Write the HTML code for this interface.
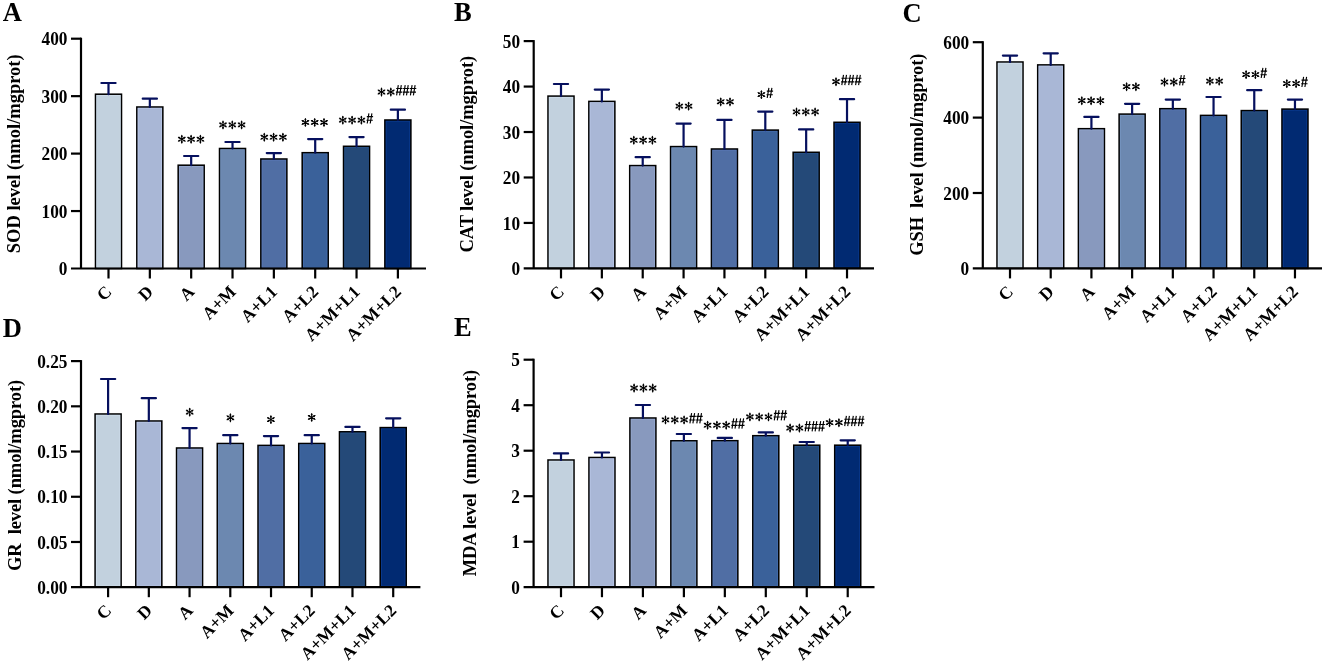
<!DOCTYPE html>
<html><head><meta charset="utf-8"><style>
html,body{margin:0;padding:0;background:#fff;width:1325px;height:663px;overflow:hidden}
svg{position:absolute;left:0;top:0;will-change:transform}
.t{font-family:"Liberation Serif",serif;font-weight:bold;fill:#000}
.ast{font-family:"Liberation Serif",serif;font-weight:normal;fill:#000}
.hs{font-family:"Liberation Sans",sans-serif;font-weight:normal;fill:#000}
</style></head><body>
<svg width="1325" height="663" viewBox="0 0 1325 663">

<text class="t" x="2.7" y="21.3" font-size="26.5">A</text>
<text class="t" font-size="18.5" text-anchor="middle" textLength="198.9" lengthAdjust="spacing" transform="translate(19.5,153.8) rotate(-90)">SOD level (nmol/mgprot)</text>
<rect x="95.50" y="94.20" width="26.00" height="174.30" fill="#c2d1de" stroke="#000" stroke-width="1.55"/>
<rect x="96.70" y="95.40" width="23.60" height="171.90" fill="none" stroke="#dbe9f8" stroke-width="0.8" stroke-opacity="0.55"/>
<path d="M101.40 83.00H115.60M108.50 83.00V94.20" stroke="#06105e" stroke-width="2.2" stroke-linecap="round" fill="none"/>
<rect x="136.84" y="107.00" width="26.00" height="161.50" fill="#a9b7d6" stroke="#000" stroke-width="1.55"/>
<rect x="138.04" y="108.20" width="23.60" height="159.10" fill="none" stroke="#c6d6f8" stroke-width="0.8" stroke-opacity="0.55"/>
<path d="M142.74 98.70H156.94M149.84 98.70V107.00" stroke="#06105e" stroke-width="2.2" stroke-linecap="round" fill="none"/>
<rect x="178.18" y="165.20" width="26.00" height="103.30" fill="#8899be" stroke="#000" stroke-width="1.55"/>
<rect x="179.38" y="166.40" width="23.60" height="100.90" fill="none" stroke="#a2b6e2" stroke-width="0.8" stroke-opacity="0.55"/>
<path d="M184.08 156.00H198.28M191.18 156.00V165.20" stroke="#06105e" stroke-width="2.2" stroke-linecap="round" fill="none"/>
<rect x="219.52" y="148.50" width="26.00" height="120.00" fill="#6c88b0" stroke="#000" stroke-width="1.55"/>
<rect x="220.72" y="149.70" width="23.60" height="117.60" fill="none" stroke="#82a2d2" stroke-width="0.8" stroke-opacity="0.55"/>
<path d="M225.42 142.00H239.62M232.52 142.00V148.50" stroke="#06105e" stroke-width="2.2" stroke-linecap="round" fill="none"/>
<rect x="260.86" y="159.00" width="26.00" height="109.50" fill="#506ea4" stroke="#000" stroke-width="1.55"/>
<rect x="262.06" y="160.20" width="23.60" height="107.10" fill="none" stroke="#6282c2" stroke-width="0.8" stroke-opacity="0.55"/>
<path d="M266.76 153.10H280.96M273.86 153.10V159.00" stroke="#06105e" stroke-width="2.2" stroke-linecap="round" fill="none"/>
<rect x="302.20" y="152.70" width="26.00" height="115.80" fill="#3a619a" stroke="#000" stroke-width="1.55"/>
<rect x="303.40" y="153.90" width="23.60" height="113.40" fill="none" stroke="#4c74ba" stroke-width="0.8" stroke-opacity="0.55"/>
<path d="M308.10 139.10H322.30M315.20 139.10V152.70" stroke="#06105e" stroke-width="2.2" stroke-linecap="round" fill="none"/>
<rect x="343.54" y="146.30" width="26.00" height="122.20" fill="#244978" stroke="#000" stroke-width="1.55"/>
<rect x="344.74" y="147.50" width="23.60" height="119.80" fill="none" stroke="#3262a2" stroke-width="0.8" stroke-opacity="0.55"/>
<path d="M349.44 137.10H363.64M356.54 137.10V146.30" stroke="#06105e" stroke-width="2.2" stroke-linecap="round" fill="none"/>
<rect x="384.88" y="120.00" width="26.00" height="148.50" fill="#012a72" stroke="#000" stroke-width="1.55"/>
<rect x="386.08" y="121.20" width="23.60" height="146.10" fill="none" stroke="#1448a8" stroke-width="0.8" stroke-opacity="0.55"/>
<path d="M390.78 109.70H404.98M397.88 109.70V120.00" stroke="#06105e" stroke-width="2.2" stroke-linecap="round" fill="none"/>
<path d="M81.0 37.7V268.5" stroke="#000" stroke-width="2.2" fill="none"/>
<path d="M71.0 268.5H426.0" stroke="#000" stroke-width="2.2" fill="none"/>
<text class="t" font-size="18.0" text-anchor="end" transform="translate(67.4,275.20) scale(0.96,1)">0</text>
<path d="M71.0 211.05H81.0" stroke="#000" stroke-width="2.2" fill="none"/>
<text class="t" font-size="18.0" text-anchor="end" transform="translate(67.4,217.75) scale(0.96,1)">100</text>
<path d="M71.0 153.60H81.0" stroke="#000" stroke-width="2.2" fill="none"/>
<text class="t" font-size="18.0" text-anchor="end" transform="translate(67.4,160.30) scale(0.96,1)">200</text>
<path d="M71.0 96.15H81.0" stroke="#000" stroke-width="2.2" fill="none"/>
<text class="t" font-size="18.0" text-anchor="end" transform="translate(67.4,102.85) scale(0.96,1)">300</text>
<path d="M71.0 38.70H81.0" stroke="#000" stroke-width="2.2" fill="none"/>
<text class="t" font-size="18.0" text-anchor="end" transform="translate(67.4,45.40) scale(0.96,1)">400</text>
<path d="M108.50 268.5V278.5" stroke="#000" stroke-width="2.2" fill="none"/>
<text class="t" font-size="17.5" text-anchor="end" transform="translate(112.80,292.8) rotate(-45)">C</text>
<path d="M149.84 268.5V278.5" stroke="#000" stroke-width="2.2" fill="none"/>
<text class="t" font-size="17.5" text-anchor="end" transform="translate(154.14,292.8) rotate(-45)">D</text>
<path d="M191.18 268.5V278.5" stroke="#000" stroke-width="2.2" fill="none"/>
<text class="t" font-size="17.5" text-anchor="end" transform="translate(195.48,292.8) rotate(-45)">A</text>
<path d="M232.52 268.5V278.5" stroke="#000" stroke-width="2.2" fill="none"/>
<text class="t" font-size="17.5" text-anchor="end" transform="translate(236.82,292.8) rotate(-45)">A+M</text>
<path d="M273.86 268.5V278.5" stroke="#000" stroke-width="2.2" fill="none"/>
<text class="t" font-size="17.5" text-anchor="end" transform="translate(278.16,292.8) rotate(-45)">A+L1</text>
<path d="M315.20 268.5V278.5" stroke="#000" stroke-width="2.2" fill="none"/>
<text class="t" font-size="17.5" text-anchor="end" transform="translate(319.50,292.8) rotate(-45)">A+L2</text>
<path d="M356.54 268.5V278.5" stroke="#000" stroke-width="2.2" fill="none"/>
<text class="t" font-size="17.5" text-anchor="end" transform="translate(360.84,292.8) rotate(-45)">A+M+L1</text>
<path d="M397.88 268.5V278.5" stroke="#000" stroke-width="2.2" fill="none"/>
<text class="t" font-size="17.5" text-anchor="end" transform="translate(402.18,292.8) rotate(-45)">A+M+L2</text>
<g transform="translate(181.80,139.20)"><path d="M0 0L0.00 -3.90M0 0L3.38 -1.95M0 0L3.38 1.95M0 0L0.00 3.90M0 0L-3.38 1.95M0 0L-3.38 -1.95" stroke="#000" stroke-width="1.05" stroke-linecap="round"/><circle cx="0.00" cy="-2.81" r="0.95"/><circle cx="2.43" cy="-1.40" r="0.95"/><circle cx="2.43" cy="1.40" r="0.95"/><circle cx="0.00" cy="2.81" r="0.95"/><circle cx="-2.43" cy="1.40" r="0.95"/><circle cx="-2.43" cy="-1.40" r="0.95"/></g>
<g transform="translate(191.10,139.20)"><path d="M0 0L0.00 -3.90M0 0L3.38 -1.95M0 0L3.38 1.95M0 0L0.00 3.90M0 0L-3.38 1.95M0 0L-3.38 -1.95" stroke="#000" stroke-width="1.05" stroke-linecap="round"/><circle cx="0.00" cy="-2.81" r="0.95"/><circle cx="2.43" cy="-1.40" r="0.95"/><circle cx="2.43" cy="1.40" r="0.95"/><circle cx="0.00" cy="2.81" r="0.95"/><circle cx="-2.43" cy="1.40" r="0.95"/><circle cx="-2.43" cy="-1.40" r="0.95"/></g>
<g transform="translate(200.40,139.20)"><path d="M0 0L0.00 -3.90M0 0L3.38 -1.95M0 0L3.38 1.95M0 0L0.00 3.90M0 0L-3.38 1.95M0 0L-3.38 -1.95" stroke="#000" stroke-width="1.05" stroke-linecap="round"/><circle cx="0.00" cy="-2.81" r="0.95"/><circle cx="2.43" cy="-1.40" r="0.95"/><circle cx="2.43" cy="1.40" r="0.95"/><circle cx="0.00" cy="2.81" r="0.95"/><circle cx="-2.43" cy="1.40" r="0.95"/><circle cx="-2.43" cy="-1.40" r="0.95"/></g>
<g transform="translate(223.00,124.90)"><path d="M0 0L0.00 -3.90M0 0L3.38 -1.95M0 0L3.38 1.95M0 0L0.00 3.90M0 0L-3.38 1.95M0 0L-3.38 -1.95" stroke="#000" stroke-width="1.05" stroke-linecap="round"/><circle cx="0.00" cy="-2.81" r="0.95"/><circle cx="2.43" cy="-1.40" r="0.95"/><circle cx="2.43" cy="1.40" r="0.95"/><circle cx="0.00" cy="2.81" r="0.95"/><circle cx="-2.43" cy="1.40" r="0.95"/><circle cx="-2.43" cy="-1.40" r="0.95"/></g>
<g transform="translate(232.30,124.90)"><path d="M0 0L0.00 -3.90M0 0L3.38 -1.95M0 0L3.38 1.95M0 0L0.00 3.90M0 0L-3.38 1.95M0 0L-3.38 -1.95" stroke="#000" stroke-width="1.05" stroke-linecap="round"/><circle cx="0.00" cy="-2.81" r="0.95"/><circle cx="2.43" cy="-1.40" r="0.95"/><circle cx="2.43" cy="1.40" r="0.95"/><circle cx="0.00" cy="2.81" r="0.95"/><circle cx="-2.43" cy="1.40" r="0.95"/><circle cx="-2.43" cy="-1.40" r="0.95"/></g>
<g transform="translate(241.60,124.90)"><path d="M0 0L0.00 -3.90M0 0L3.38 -1.95M0 0L3.38 1.95M0 0L0.00 3.90M0 0L-3.38 1.95M0 0L-3.38 -1.95" stroke="#000" stroke-width="1.05" stroke-linecap="round"/><circle cx="0.00" cy="-2.81" r="0.95"/><circle cx="2.43" cy="-1.40" r="0.95"/><circle cx="2.43" cy="1.40" r="0.95"/><circle cx="0.00" cy="2.81" r="0.95"/><circle cx="-2.43" cy="1.40" r="0.95"/><circle cx="-2.43" cy="-1.40" r="0.95"/></g>
<g transform="translate(264.30,137.20)"><path d="M0 0L0.00 -3.90M0 0L3.38 -1.95M0 0L3.38 1.95M0 0L0.00 3.90M0 0L-3.38 1.95M0 0L-3.38 -1.95" stroke="#000" stroke-width="1.05" stroke-linecap="round"/><circle cx="0.00" cy="-2.81" r="0.95"/><circle cx="2.43" cy="-1.40" r="0.95"/><circle cx="2.43" cy="1.40" r="0.95"/><circle cx="0.00" cy="2.81" r="0.95"/><circle cx="-2.43" cy="1.40" r="0.95"/><circle cx="-2.43" cy="-1.40" r="0.95"/></g>
<g transform="translate(273.60,137.20)"><path d="M0 0L0.00 -3.90M0 0L3.38 -1.95M0 0L3.38 1.95M0 0L0.00 3.90M0 0L-3.38 1.95M0 0L-3.38 -1.95" stroke="#000" stroke-width="1.05" stroke-linecap="round"/><circle cx="0.00" cy="-2.81" r="0.95"/><circle cx="2.43" cy="-1.40" r="0.95"/><circle cx="2.43" cy="1.40" r="0.95"/><circle cx="0.00" cy="2.81" r="0.95"/><circle cx="-2.43" cy="1.40" r="0.95"/><circle cx="-2.43" cy="-1.40" r="0.95"/></g>
<g transform="translate(282.90,137.20)"><path d="M0 0L0.00 -3.90M0 0L3.38 -1.95M0 0L3.38 1.95M0 0L0.00 3.90M0 0L-3.38 1.95M0 0L-3.38 -1.95" stroke="#000" stroke-width="1.05" stroke-linecap="round"/><circle cx="0.00" cy="-2.81" r="0.95"/><circle cx="2.43" cy="-1.40" r="0.95"/><circle cx="2.43" cy="1.40" r="0.95"/><circle cx="0.00" cy="2.81" r="0.95"/><circle cx="-2.43" cy="1.40" r="0.95"/><circle cx="-2.43" cy="-1.40" r="0.95"/></g>
<g transform="translate(305.40,122.40)"><path d="M0 0L0.00 -3.90M0 0L3.38 -1.95M0 0L3.38 1.95M0 0L0.00 3.90M0 0L-3.38 1.95M0 0L-3.38 -1.95" stroke="#000" stroke-width="1.05" stroke-linecap="round"/><circle cx="0.00" cy="-2.81" r="0.95"/><circle cx="2.43" cy="-1.40" r="0.95"/><circle cx="2.43" cy="1.40" r="0.95"/><circle cx="0.00" cy="2.81" r="0.95"/><circle cx="-2.43" cy="1.40" r="0.95"/><circle cx="-2.43" cy="-1.40" r="0.95"/></g>
<g transform="translate(314.70,122.40)"><path d="M0 0L0.00 -3.90M0 0L3.38 -1.95M0 0L3.38 1.95M0 0L0.00 3.90M0 0L-3.38 1.95M0 0L-3.38 -1.95" stroke="#000" stroke-width="1.05" stroke-linecap="round"/><circle cx="0.00" cy="-2.81" r="0.95"/><circle cx="2.43" cy="-1.40" r="0.95"/><circle cx="2.43" cy="1.40" r="0.95"/><circle cx="0.00" cy="2.81" r="0.95"/><circle cx="-2.43" cy="1.40" r="0.95"/><circle cx="-2.43" cy="-1.40" r="0.95"/></g>
<g transform="translate(324.00,122.40)"><path d="M0 0L0.00 -3.90M0 0L3.38 -1.95M0 0L3.38 1.95M0 0L0.00 3.90M0 0L-3.38 1.95M0 0L-3.38 -1.95" stroke="#000" stroke-width="1.05" stroke-linecap="round"/><circle cx="0.00" cy="-2.81" r="0.95"/><circle cx="2.43" cy="-1.40" r="0.95"/><circle cx="2.43" cy="1.40" r="0.95"/><circle cx="0.00" cy="2.81" r="0.95"/><circle cx="-2.43" cy="1.40" r="0.95"/><circle cx="-2.43" cy="-1.40" r="0.95"/></g>
<g transform="translate(342.80,120.10)"><path d="M0 0L0.00 -3.90M0 0L3.38 -1.95M0 0L3.38 1.95M0 0L0.00 3.90M0 0L-3.38 1.95M0 0L-3.38 -1.95" stroke="#000" stroke-width="1.05" stroke-linecap="round"/><circle cx="0.00" cy="-2.81" r="0.95"/><circle cx="2.43" cy="-1.40" r="0.95"/><circle cx="2.43" cy="1.40" r="0.95"/><circle cx="0.00" cy="2.81" r="0.95"/><circle cx="-2.43" cy="1.40" r="0.95"/><circle cx="-2.43" cy="-1.40" r="0.95"/></g>
<g transform="translate(352.10,120.10)"><path d="M0 0L0.00 -3.90M0 0L3.38 -1.95M0 0L3.38 1.95M0 0L0.00 3.90M0 0L-3.38 1.95M0 0L-3.38 -1.95" stroke="#000" stroke-width="1.05" stroke-linecap="round"/><circle cx="0.00" cy="-2.81" r="0.95"/><circle cx="2.43" cy="-1.40" r="0.95"/><circle cx="2.43" cy="1.40" r="0.95"/><circle cx="0.00" cy="2.81" r="0.95"/><circle cx="-2.43" cy="1.40" r="0.95"/><circle cx="-2.43" cy="-1.40" r="0.95"/></g>
<g transform="translate(361.40,120.10)"><path d="M0 0L0.00 -3.90M0 0L3.38 -1.95M0 0L3.38 1.95M0 0L0.00 3.90M0 0L-3.38 1.95M0 0L-3.38 -1.95" stroke="#000" stroke-width="1.05" stroke-linecap="round"/><circle cx="0.00" cy="-2.81" r="0.95"/><circle cx="2.43" cy="-1.40" r="0.95"/><circle cx="2.43" cy="1.40" r="0.95"/><circle cx="0.00" cy="2.81" r="0.95"/><circle cx="-2.43" cy="1.40" r="0.95"/><circle cx="-2.43" cy="-1.40" r="0.95"/></g>
<path transform="translate(366.20,123.50)" d="M1.0 0L2.7 -10.2M4.0 0L5.7 -10.2M0.3 -3.3H6.6M0.6 -6.9H6.9" fill="none" stroke="#000" stroke-width="1.15"/>
<g transform="translate(381.50,92.00)"><path d="M0 0L0.00 -3.90M0 0L3.38 -1.95M0 0L3.38 1.95M0 0L0.00 3.90M0 0L-3.38 1.95M0 0L-3.38 -1.95" stroke="#000" stroke-width="1.05" stroke-linecap="round"/><circle cx="0.00" cy="-2.81" r="0.95"/><circle cx="2.43" cy="-1.40" r="0.95"/><circle cx="2.43" cy="1.40" r="0.95"/><circle cx="0.00" cy="2.81" r="0.95"/><circle cx="-2.43" cy="1.40" r="0.95"/><circle cx="-2.43" cy="-1.40" r="0.95"/></g>
<g transform="translate(390.80,92.00)"><path d="M0 0L0.00 -3.90M0 0L3.38 -1.95M0 0L3.38 1.95M0 0L0.00 3.90M0 0L-3.38 1.95M0 0L-3.38 -1.95" stroke="#000" stroke-width="1.05" stroke-linecap="round"/><circle cx="0.00" cy="-2.81" r="0.95"/><circle cx="2.43" cy="-1.40" r="0.95"/><circle cx="2.43" cy="1.40" r="0.95"/><circle cx="0.00" cy="2.81" r="0.95"/><circle cx="-2.43" cy="1.40" r="0.95"/><circle cx="-2.43" cy="-1.40" r="0.95"/></g>
<path transform="translate(395.60,95.40)" d="M1.0 0L2.7 -10.2M4.0 0L5.7 -10.2M0.3 -3.3H6.6M0.6 -6.9H6.9" fill="none" stroke="#000" stroke-width="1.15"/>
<path transform="translate(402.50,95.40)" d="M1.0 0L2.7 -10.2M4.0 0L5.7 -10.2M0.3 -3.3H6.6M0.6 -6.9H6.9" fill="none" stroke="#000" stroke-width="1.15"/>
<path transform="translate(409.40,95.40)" d="M1.0 0L2.7 -10.2M4.0 0L5.7 -10.2M0.3 -3.3H6.6M0.6 -6.9H6.9" fill="none" stroke="#000" stroke-width="1.15"/>
<text class="t" x="454.0" y="21.3" font-size="26.5">B</text>
<text class="t" font-size="18.5" text-anchor="middle" textLength="196.8" lengthAdjust="spacing" transform="translate(472.6,154.2) rotate(-90)">CAT level (nmol/mgprot)</text>
<rect x="548.00" y="96.10" width="26.00" height="172.30" fill="#c2d1de" stroke="#000" stroke-width="1.55"/>
<rect x="549.20" y="97.30" width="23.60" height="169.90" fill="none" stroke="#dbe9f8" stroke-width="0.8" stroke-opacity="0.55"/>
<path d="M553.90 84.00H568.10M561.00 84.00V96.10" stroke="#06105e" stroke-width="2.2" stroke-linecap="round" fill="none"/>
<rect x="588.86" y="101.40" width="26.00" height="167.00" fill="#a9b7d6" stroke="#000" stroke-width="1.55"/>
<rect x="590.06" y="102.60" width="23.60" height="164.60" fill="none" stroke="#c6d6f8" stroke-width="0.8" stroke-opacity="0.55"/>
<path d="M594.76 89.60H608.96M601.86 89.60V101.40" stroke="#06105e" stroke-width="2.2" stroke-linecap="round" fill="none"/>
<rect x="629.72" y="165.60" width="26.00" height="102.80" fill="#8899be" stroke="#000" stroke-width="1.55"/>
<rect x="630.92" y="166.80" width="23.60" height="100.40" fill="none" stroke="#a2b6e2" stroke-width="0.8" stroke-opacity="0.55"/>
<path d="M635.62 157.20H649.82M642.72 157.20V165.60" stroke="#06105e" stroke-width="2.2" stroke-linecap="round" fill="none"/>
<rect x="670.58" y="146.60" width="26.00" height="121.80" fill="#6c88b0" stroke="#000" stroke-width="1.55"/>
<rect x="671.78" y="147.80" width="23.60" height="119.40" fill="none" stroke="#82a2d2" stroke-width="0.8" stroke-opacity="0.55"/>
<path d="M676.48 123.60H690.68M683.58 123.60V146.60" stroke="#06105e" stroke-width="2.2" stroke-linecap="round" fill="none"/>
<rect x="711.44" y="149.00" width="26.00" height="119.40" fill="#506ea4" stroke="#000" stroke-width="1.55"/>
<rect x="712.64" y="150.20" width="23.60" height="117.00" fill="none" stroke="#6282c2" stroke-width="0.8" stroke-opacity="0.55"/>
<path d="M717.34 119.90H731.54M724.44 119.90V149.00" stroke="#06105e" stroke-width="2.2" stroke-linecap="round" fill="none"/>
<rect x="752.30" y="130.10" width="26.00" height="138.30" fill="#3a619a" stroke="#000" stroke-width="1.55"/>
<rect x="753.50" y="131.30" width="23.60" height="135.90" fill="none" stroke="#4c74ba" stroke-width="0.8" stroke-opacity="0.55"/>
<path d="M758.20 111.60H772.40M765.30 111.60V130.10" stroke="#06105e" stroke-width="2.2" stroke-linecap="round" fill="none"/>
<rect x="793.16" y="152.30" width="26.00" height="116.10" fill="#244978" stroke="#000" stroke-width="1.55"/>
<rect x="794.36" y="153.50" width="23.60" height="113.70" fill="none" stroke="#3262a2" stroke-width="0.8" stroke-opacity="0.55"/>
<path d="M799.06 129.40H813.26M806.16 129.40V152.30" stroke="#06105e" stroke-width="2.2" stroke-linecap="round" fill="none"/>
<rect x="834.02" y="122.30" width="26.00" height="146.10" fill="#012a72" stroke="#000" stroke-width="1.55"/>
<rect x="835.22" y="123.50" width="23.60" height="143.70" fill="none" stroke="#1448a8" stroke-width="0.8" stroke-opacity="0.55"/>
<path d="M839.92 99.20H854.12M847.02 99.20V122.30" stroke="#06105e" stroke-width="2.2" stroke-linecap="round" fill="none"/>
<path d="M533.7 40.1V268.4" stroke="#000" stroke-width="2.2" fill="none"/>
<path d="M523.7 268.4H874.0" stroke="#000" stroke-width="2.2" fill="none"/>
<text class="t" font-size="18.0" text-anchor="end" transform="translate(520.1,275.10) scale(0.96,1)">0</text>
<path d="M523.7 222.94H533.7" stroke="#000" stroke-width="2.2" fill="none"/>
<text class="t" font-size="18.0" text-anchor="end" transform="translate(520.1,229.64) scale(0.96,1)">10</text>
<path d="M523.7 177.48H533.7" stroke="#000" stroke-width="2.2" fill="none"/>
<text class="t" font-size="18.0" text-anchor="end" transform="translate(520.1,184.18) scale(0.96,1)">20</text>
<path d="M523.7 132.02H533.7" stroke="#000" stroke-width="2.2" fill="none"/>
<text class="t" font-size="18.0" text-anchor="end" transform="translate(520.1,138.72) scale(0.96,1)">30</text>
<path d="M523.7 86.56H533.7" stroke="#000" stroke-width="2.2" fill="none"/>
<text class="t" font-size="18.0" text-anchor="end" transform="translate(520.1,93.26) scale(0.96,1)">40</text>
<path d="M523.7 41.10H533.7" stroke="#000" stroke-width="2.2" fill="none"/>
<text class="t" font-size="18.0" text-anchor="end" transform="translate(520.1,47.80) scale(0.96,1)">50</text>
<path d="M561.00 268.4V278.4" stroke="#000" stroke-width="2.2" fill="none"/>
<text class="t" font-size="17.5" text-anchor="end" transform="translate(565.30,292.7) rotate(-45)">C</text>
<path d="M601.86 268.4V278.4" stroke="#000" stroke-width="2.2" fill="none"/>
<text class="t" font-size="17.5" text-anchor="end" transform="translate(606.16,292.7) rotate(-45)">D</text>
<path d="M642.72 268.4V278.4" stroke="#000" stroke-width="2.2" fill="none"/>
<text class="t" font-size="17.5" text-anchor="end" transform="translate(647.02,292.7) rotate(-45)">A</text>
<path d="M683.58 268.4V278.4" stroke="#000" stroke-width="2.2" fill="none"/>
<text class="t" font-size="17.5" text-anchor="end" transform="translate(687.88,292.7) rotate(-45)">A+M</text>
<path d="M724.44 268.4V278.4" stroke="#000" stroke-width="2.2" fill="none"/>
<text class="t" font-size="17.5" text-anchor="end" transform="translate(728.74,292.7) rotate(-45)">A+L1</text>
<path d="M765.30 268.4V278.4" stroke="#000" stroke-width="2.2" fill="none"/>
<text class="t" font-size="17.5" text-anchor="end" transform="translate(769.60,292.7) rotate(-45)">A+L2</text>
<path d="M806.16 268.4V278.4" stroke="#000" stroke-width="2.2" fill="none"/>
<text class="t" font-size="17.5" text-anchor="end" transform="translate(810.46,292.7) rotate(-45)">A+M+L1</text>
<path d="M847.02 268.4V278.4" stroke="#000" stroke-width="2.2" fill="none"/>
<text class="t" font-size="17.5" text-anchor="end" transform="translate(851.32,292.7) rotate(-45)">A+M+L2</text>
<g transform="translate(633.80,140.20)"><path d="M0 0L0.00 -3.90M0 0L3.38 -1.95M0 0L3.38 1.95M0 0L0.00 3.90M0 0L-3.38 1.95M0 0L-3.38 -1.95" stroke="#000" stroke-width="1.05" stroke-linecap="round"/><circle cx="0.00" cy="-2.81" r="0.95"/><circle cx="2.43" cy="-1.40" r="0.95"/><circle cx="2.43" cy="1.40" r="0.95"/><circle cx="0.00" cy="2.81" r="0.95"/><circle cx="-2.43" cy="1.40" r="0.95"/><circle cx="-2.43" cy="-1.40" r="0.95"/></g>
<g transform="translate(643.10,140.20)"><path d="M0 0L0.00 -3.90M0 0L3.38 -1.95M0 0L3.38 1.95M0 0L0.00 3.90M0 0L-3.38 1.95M0 0L-3.38 -1.95" stroke="#000" stroke-width="1.05" stroke-linecap="round"/><circle cx="0.00" cy="-2.81" r="0.95"/><circle cx="2.43" cy="-1.40" r="0.95"/><circle cx="2.43" cy="1.40" r="0.95"/><circle cx="0.00" cy="2.81" r="0.95"/><circle cx="-2.43" cy="1.40" r="0.95"/><circle cx="-2.43" cy="-1.40" r="0.95"/></g>
<g transform="translate(652.40,140.20)"><path d="M0 0L0.00 -3.90M0 0L3.38 -1.95M0 0L3.38 1.95M0 0L0.00 3.90M0 0L-3.38 1.95M0 0L-3.38 -1.95" stroke="#000" stroke-width="1.05" stroke-linecap="round"/><circle cx="0.00" cy="-2.81" r="0.95"/><circle cx="2.43" cy="-1.40" r="0.95"/><circle cx="2.43" cy="1.40" r="0.95"/><circle cx="0.00" cy="2.81" r="0.95"/><circle cx="-2.43" cy="1.40" r="0.95"/><circle cx="-2.43" cy="-1.40" r="0.95"/></g>
<g transform="translate(679.30,106.10)"><path d="M0 0L0.00 -3.90M0 0L3.38 -1.95M0 0L3.38 1.95M0 0L0.00 3.90M0 0L-3.38 1.95M0 0L-3.38 -1.95" stroke="#000" stroke-width="1.05" stroke-linecap="round"/><circle cx="0.00" cy="-2.81" r="0.95"/><circle cx="2.43" cy="-1.40" r="0.95"/><circle cx="2.43" cy="1.40" r="0.95"/><circle cx="0.00" cy="2.81" r="0.95"/><circle cx="-2.43" cy="1.40" r="0.95"/><circle cx="-2.43" cy="-1.40" r="0.95"/></g>
<g transform="translate(688.60,106.10)"><path d="M0 0L0.00 -3.90M0 0L3.38 -1.95M0 0L3.38 1.95M0 0L0.00 3.90M0 0L-3.38 1.95M0 0L-3.38 -1.95" stroke="#000" stroke-width="1.05" stroke-linecap="round"/><circle cx="0.00" cy="-2.81" r="0.95"/><circle cx="2.43" cy="-1.40" r="0.95"/><circle cx="2.43" cy="1.40" r="0.95"/><circle cx="0.00" cy="2.81" r="0.95"/><circle cx="-2.43" cy="1.40" r="0.95"/><circle cx="-2.43" cy="-1.40" r="0.95"/></g>
<g transform="translate(720.70,101.80)"><path d="M0 0L0.00 -3.90M0 0L3.38 -1.95M0 0L3.38 1.95M0 0L0.00 3.90M0 0L-3.38 1.95M0 0L-3.38 -1.95" stroke="#000" stroke-width="1.05" stroke-linecap="round"/><circle cx="0.00" cy="-2.81" r="0.95"/><circle cx="2.43" cy="-1.40" r="0.95"/><circle cx="2.43" cy="1.40" r="0.95"/><circle cx="0.00" cy="2.81" r="0.95"/><circle cx="-2.43" cy="1.40" r="0.95"/><circle cx="-2.43" cy="-1.40" r="0.95"/></g>
<g transform="translate(730.00,101.80)"><path d="M0 0L0.00 -3.90M0 0L3.38 -1.95M0 0L3.38 1.95M0 0L0.00 3.90M0 0L-3.38 1.95M0 0L-3.38 -1.95" stroke="#000" stroke-width="1.05" stroke-linecap="round"/><circle cx="0.00" cy="-2.81" r="0.95"/><circle cx="2.43" cy="-1.40" r="0.95"/><circle cx="2.43" cy="1.40" r="0.95"/><circle cx="0.00" cy="2.81" r="0.95"/><circle cx="-2.43" cy="1.40" r="0.95"/><circle cx="-2.43" cy="-1.40" r="0.95"/></g>
<g transform="translate(761.40,94.60)"><path d="M0 0L0.00 -3.90M0 0L3.38 -1.95M0 0L3.38 1.95M0 0L0.00 3.90M0 0L-3.38 1.95M0 0L-3.38 -1.95" stroke="#000" stroke-width="1.05" stroke-linecap="round"/><circle cx="0.00" cy="-2.81" r="0.95"/><circle cx="2.43" cy="-1.40" r="0.95"/><circle cx="2.43" cy="1.40" r="0.95"/><circle cx="0.00" cy="2.81" r="0.95"/><circle cx="-2.43" cy="1.40" r="0.95"/><circle cx="-2.43" cy="-1.40" r="0.95"/></g>
<path transform="translate(766.20,98.00)" d="M1.0 0L2.7 -10.2M4.0 0L5.7 -10.2M0.3 -3.3H6.6M0.6 -6.9H6.9" fill="none" stroke="#000" stroke-width="1.15"/>
<g transform="translate(796.50,111.90)"><path d="M0 0L0.00 -3.90M0 0L3.38 -1.95M0 0L3.38 1.95M0 0L0.00 3.90M0 0L-3.38 1.95M0 0L-3.38 -1.95" stroke="#000" stroke-width="1.05" stroke-linecap="round"/><circle cx="0.00" cy="-2.81" r="0.95"/><circle cx="2.43" cy="-1.40" r="0.95"/><circle cx="2.43" cy="1.40" r="0.95"/><circle cx="0.00" cy="2.81" r="0.95"/><circle cx="-2.43" cy="1.40" r="0.95"/><circle cx="-2.43" cy="-1.40" r="0.95"/></g>
<g transform="translate(805.80,111.90)"><path d="M0 0L0.00 -3.90M0 0L3.38 -1.95M0 0L3.38 1.95M0 0L0.00 3.90M0 0L-3.38 1.95M0 0L-3.38 -1.95" stroke="#000" stroke-width="1.05" stroke-linecap="round"/><circle cx="0.00" cy="-2.81" r="0.95"/><circle cx="2.43" cy="-1.40" r="0.95"/><circle cx="2.43" cy="1.40" r="0.95"/><circle cx="0.00" cy="2.81" r="0.95"/><circle cx="-2.43" cy="1.40" r="0.95"/><circle cx="-2.43" cy="-1.40" r="0.95"/></g>
<g transform="translate(815.10,111.90)"><path d="M0 0L0.00 -3.90M0 0L3.38 -1.95M0 0L3.38 1.95M0 0L0.00 3.90M0 0L-3.38 1.95M0 0L-3.38 -1.95" stroke="#000" stroke-width="1.05" stroke-linecap="round"/><circle cx="0.00" cy="-2.81" r="0.95"/><circle cx="2.43" cy="-1.40" r="0.95"/><circle cx="2.43" cy="1.40" r="0.95"/><circle cx="0.00" cy="2.81" r="0.95"/><circle cx="-2.43" cy="1.40" r="0.95"/><circle cx="-2.43" cy="-1.40" r="0.95"/></g>
<g transform="translate(836.00,81.70)"><path d="M0 0L0.00 -3.90M0 0L3.38 -1.95M0 0L3.38 1.95M0 0L0.00 3.90M0 0L-3.38 1.95M0 0L-3.38 -1.95" stroke="#000" stroke-width="1.05" stroke-linecap="round"/><circle cx="0.00" cy="-2.81" r="0.95"/><circle cx="2.43" cy="-1.40" r="0.95"/><circle cx="2.43" cy="1.40" r="0.95"/><circle cx="0.00" cy="2.81" r="0.95"/><circle cx="-2.43" cy="1.40" r="0.95"/><circle cx="-2.43" cy="-1.40" r="0.95"/></g>
<path transform="translate(840.80,85.10)" d="M1.0 0L2.7 -10.2M4.0 0L5.7 -10.2M0.3 -3.3H6.6M0.6 -6.9H6.9" fill="none" stroke="#000" stroke-width="1.15"/>
<path transform="translate(847.70,85.10)" d="M1.0 0L2.7 -10.2M4.0 0L5.7 -10.2M0.3 -3.3H6.6M0.6 -6.9H6.9" fill="none" stroke="#000" stroke-width="1.15"/>
<path transform="translate(854.60,85.10)" d="M1.0 0L2.7 -10.2M4.0 0L5.7 -10.2M0.3 -3.3H6.6M0.6 -6.9H6.9" fill="none" stroke="#000" stroke-width="1.15"/>
<text class="t" x="902.6" y="22.0" font-size="26.5">C</text>
<text class="t" font-size="18.5" text-anchor="middle" textLength="202.2" lengthAdjust="spacing" transform="translate(923.4,154.6) rotate(-90)">GSH&#160; level (nmol/mgprot)</text>
<rect x="997.00" y="62.00" width="26.00" height="206.40" fill="#c2d1de" stroke="#000" stroke-width="1.55"/>
<rect x="998.20" y="63.20" width="23.60" height="204.00" fill="none" stroke="#dbe9f8" stroke-width="0.8" stroke-opacity="0.55"/>
<path d="M1002.90 55.60H1017.10M1010.00 55.60V62.00" stroke="#06105e" stroke-width="2.2" stroke-linecap="round" fill="none"/>
<rect x="1037.71" y="64.90" width="26.00" height="203.50" fill="#a9b7d6" stroke="#000" stroke-width="1.55"/>
<rect x="1038.91" y="66.10" width="23.60" height="201.10" fill="none" stroke="#c6d6f8" stroke-width="0.8" stroke-opacity="0.55"/>
<path d="M1043.61 53.30H1057.81M1050.71 53.30V64.90" stroke="#06105e" stroke-width="2.2" stroke-linecap="round" fill="none"/>
<rect x="1078.42" y="128.70" width="26.00" height="139.70" fill="#8899be" stroke="#000" stroke-width="1.55"/>
<rect x="1079.62" y="129.90" width="23.60" height="137.30" fill="none" stroke="#a2b6e2" stroke-width="0.8" stroke-opacity="0.55"/>
<path d="M1084.32 116.90H1098.52M1091.42 116.90V128.70" stroke="#06105e" stroke-width="2.2" stroke-linecap="round" fill="none"/>
<rect x="1119.13" y="114.10" width="26.00" height="154.30" fill="#6c88b0" stroke="#000" stroke-width="1.55"/>
<rect x="1120.33" y="115.30" width="23.60" height="151.90" fill="none" stroke="#82a2d2" stroke-width="0.8" stroke-opacity="0.55"/>
<path d="M1125.03 103.80H1139.23M1132.13 103.80V114.10" stroke="#06105e" stroke-width="2.2" stroke-linecap="round" fill="none"/>
<rect x="1159.84" y="108.70" width="26.00" height="159.70" fill="#506ea4" stroke="#000" stroke-width="1.55"/>
<rect x="1161.04" y="109.90" width="23.60" height="157.30" fill="none" stroke="#6282c2" stroke-width="0.8" stroke-opacity="0.55"/>
<path d="M1165.74 99.60H1179.94M1172.84 99.60V108.70" stroke="#06105e" stroke-width="2.2" stroke-linecap="round" fill="none"/>
<rect x="1200.55" y="115.40" width="26.00" height="153.00" fill="#3a619a" stroke="#000" stroke-width="1.55"/>
<rect x="1201.75" y="116.60" width="23.60" height="150.60" fill="none" stroke="#4c74ba" stroke-width="0.8" stroke-opacity="0.55"/>
<path d="M1206.45 97.00H1220.65M1213.55 97.00V115.40" stroke="#06105e" stroke-width="2.2" stroke-linecap="round" fill="none"/>
<rect x="1241.26" y="110.60" width="26.00" height="157.80" fill="#244978" stroke="#000" stroke-width="1.55"/>
<rect x="1242.46" y="111.80" width="23.60" height="155.40" fill="none" stroke="#3262a2" stroke-width="0.8" stroke-opacity="0.55"/>
<path d="M1247.16 90.20H1261.36M1254.26 90.20V110.60" stroke="#06105e" stroke-width="2.2" stroke-linecap="round" fill="none"/>
<rect x="1281.97" y="109.10" width="26.00" height="159.30" fill="#012a72" stroke="#000" stroke-width="1.55"/>
<rect x="1283.17" y="110.30" width="23.60" height="156.90" fill="none" stroke="#1448a8" stroke-width="0.8" stroke-opacity="0.55"/>
<path d="M1287.87 99.60H1302.07M1294.97 99.60V109.10" stroke="#06105e" stroke-width="2.2" stroke-linecap="round" fill="none"/>
<path d="M982.8 41.2V268.4" stroke="#000" stroke-width="2.2" fill="none"/>
<path d="M972.8 268.4H1322.0" stroke="#000" stroke-width="2.2" fill="none"/>
<text class="t" font-size="18.0" text-anchor="end" transform="translate(969.2,275.10) scale(0.96,1)">0</text>
<path d="M972.8 193.00H982.8" stroke="#000" stroke-width="2.2" fill="none"/>
<text class="t" font-size="18.0" text-anchor="end" transform="translate(969.2,199.70) scale(0.96,1)">200</text>
<path d="M972.8 117.60H982.8" stroke="#000" stroke-width="2.2" fill="none"/>
<text class="t" font-size="18.0" text-anchor="end" transform="translate(969.2,124.30) scale(0.96,1)">400</text>
<path d="M972.8 42.20H982.8" stroke="#000" stroke-width="2.2" fill="none"/>
<text class="t" font-size="18.0" text-anchor="end" transform="translate(969.2,48.90) scale(0.96,1)">600</text>
<path d="M1010.00 268.4V278.4" stroke="#000" stroke-width="2.2" fill="none"/>
<text class="t" font-size="17.5" text-anchor="end" transform="translate(1014.30,292.7) rotate(-45)">C</text>
<path d="M1050.71 268.4V278.4" stroke="#000" stroke-width="2.2" fill="none"/>
<text class="t" font-size="17.5" text-anchor="end" transform="translate(1055.01,292.7) rotate(-45)">D</text>
<path d="M1091.42 268.4V278.4" stroke="#000" stroke-width="2.2" fill="none"/>
<text class="t" font-size="17.5" text-anchor="end" transform="translate(1095.72,292.7) rotate(-45)">A</text>
<path d="M1132.13 268.4V278.4" stroke="#000" stroke-width="2.2" fill="none"/>
<text class="t" font-size="17.5" text-anchor="end" transform="translate(1136.43,292.7) rotate(-45)">A+M</text>
<path d="M1172.84 268.4V278.4" stroke="#000" stroke-width="2.2" fill="none"/>
<text class="t" font-size="17.5" text-anchor="end" transform="translate(1177.14,292.7) rotate(-45)">A+L1</text>
<path d="M1213.55 268.4V278.4" stroke="#000" stroke-width="2.2" fill="none"/>
<text class="t" font-size="17.5" text-anchor="end" transform="translate(1217.85,292.7) rotate(-45)">A+L2</text>
<path d="M1254.26 268.4V278.4" stroke="#000" stroke-width="2.2" fill="none"/>
<text class="t" font-size="17.5" text-anchor="end" transform="translate(1258.56,292.7) rotate(-45)">A+M+L1</text>
<path d="M1294.97 268.4V278.4" stroke="#000" stroke-width="2.2" fill="none"/>
<text class="t" font-size="17.5" text-anchor="end" transform="translate(1299.27,292.7) rotate(-45)">A+M+L2</text>
<g transform="translate(1081.80,100.70)"><path d="M0 0L0.00 -3.90M0 0L3.38 -1.95M0 0L3.38 1.95M0 0L0.00 3.90M0 0L-3.38 1.95M0 0L-3.38 -1.95" stroke="#000" stroke-width="1.05" stroke-linecap="round"/><circle cx="0.00" cy="-2.81" r="0.95"/><circle cx="2.43" cy="-1.40" r="0.95"/><circle cx="2.43" cy="1.40" r="0.95"/><circle cx="0.00" cy="2.81" r="0.95"/><circle cx="-2.43" cy="1.40" r="0.95"/><circle cx="-2.43" cy="-1.40" r="0.95"/></g>
<g transform="translate(1091.10,100.70)"><path d="M0 0L0.00 -3.90M0 0L3.38 -1.95M0 0L3.38 1.95M0 0L0.00 3.90M0 0L-3.38 1.95M0 0L-3.38 -1.95" stroke="#000" stroke-width="1.05" stroke-linecap="round"/><circle cx="0.00" cy="-2.81" r="0.95"/><circle cx="2.43" cy="-1.40" r="0.95"/><circle cx="2.43" cy="1.40" r="0.95"/><circle cx="0.00" cy="2.81" r="0.95"/><circle cx="-2.43" cy="1.40" r="0.95"/><circle cx="-2.43" cy="-1.40" r="0.95"/></g>
<g transform="translate(1100.40,100.70)"><path d="M0 0L0.00 -3.90M0 0L3.38 -1.95M0 0L3.38 1.95M0 0L0.00 3.90M0 0L-3.38 1.95M0 0L-3.38 -1.95" stroke="#000" stroke-width="1.05" stroke-linecap="round"/><circle cx="0.00" cy="-2.81" r="0.95"/><circle cx="2.43" cy="-1.40" r="0.95"/><circle cx="2.43" cy="1.40" r="0.95"/><circle cx="0.00" cy="2.81" r="0.95"/><circle cx="-2.43" cy="1.40" r="0.95"/><circle cx="-2.43" cy="-1.40" r="0.95"/></g>
<g transform="translate(1126.60,86.70)"><path d="M0 0L0.00 -3.90M0 0L3.38 -1.95M0 0L3.38 1.95M0 0L0.00 3.90M0 0L-3.38 1.95M0 0L-3.38 -1.95" stroke="#000" stroke-width="1.05" stroke-linecap="round"/><circle cx="0.00" cy="-2.81" r="0.95"/><circle cx="2.43" cy="-1.40" r="0.95"/><circle cx="2.43" cy="1.40" r="0.95"/><circle cx="0.00" cy="2.81" r="0.95"/><circle cx="-2.43" cy="1.40" r="0.95"/><circle cx="-2.43" cy="-1.40" r="0.95"/></g>
<g transform="translate(1135.90,86.70)"><path d="M0 0L0.00 -3.90M0 0L3.38 -1.95M0 0L3.38 1.95M0 0L0.00 3.90M0 0L-3.38 1.95M0 0L-3.38 -1.95" stroke="#000" stroke-width="1.05" stroke-linecap="round"/><circle cx="0.00" cy="-2.81" r="0.95"/><circle cx="2.43" cy="-1.40" r="0.95"/><circle cx="2.43" cy="1.40" r="0.95"/><circle cx="0.00" cy="2.81" r="0.95"/><circle cx="-2.43" cy="1.40" r="0.95"/><circle cx="-2.43" cy="-1.40" r="0.95"/></g>
<g transform="translate(1164.50,82.00)"><path d="M0 0L0.00 -3.90M0 0L3.38 -1.95M0 0L3.38 1.95M0 0L0.00 3.90M0 0L-3.38 1.95M0 0L-3.38 -1.95" stroke="#000" stroke-width="1.05" stroke-linecap="round"/><circle cx="0.00" cy="-2.81" r="0.95"/><circle cx="2.43" cy="-1.40" r="0.95"/><circle cx="2.43" cy="1.40" r="0.95"/><circle cx="0.00" cy="2.81" r="0.95"/><circle cx="-2.43" cy="1.40" r="0.95"/><circle cx="-2.43" cy="-1.40" r="0.95"/></g>
<g transform="translate(1173.80,82.00)"><path d="M0 0L0.00 -3.90M0 0L3.38 -1.95M0 0L3.38 1.95M0 0L0.00 3.90M0 0L-3.38 1.95M0 0L-3.38 -1.95" stroke="#000" stroke-width="1.05" stroke-linecap="round"/><circle cx="0.00" cy="-2.81" r="0.95"/><circle cx="2.43" cy="-1.40" r="0.95"/><circle cx="2.43" cy="1.40" r="0.95"/><circle cx="0.00" cy="2.81" r="0.95"/><circle cx="-2.43" cy="1.40" r="0.95"/><circle cx="-2.43" cy="-1.40" r="0.95"/></g>
<path transform="translate(1178.60,85.40)" d="M1.0 0L2.7 -10.2M4.0 0L5.7 -10.2M0.3 -3.3H6.6M0.6 -6.9H6.9" fill="none" stroke="#000" stroke-width="1.15"/>
<g transform="translate(1209.90,81.10)"><path d="M0 0L0.00 -3.90M0 0L3.38 -1.95M0 0L3.38 1.95M0 0L0.00 3.90M0 0L-3.38 1.95M0 0L-3.38 -1.95" stroke="#000" stroke-width="1.05" stroke-linecap="round"/><circle cx="0.00" cy="-2.81" r="0.95"/><circle cx="2.43" cy="-1.40" r="0.95"/><circle cx="2.43" cy="1.40" r="0.95"/><circle cx="0.00" cy="2.81" r="0.95"/><circle cx="-2.43" cy="1.40" r="0.95"/><circle cx="-2.43" cy="-1.40" r="0.95"/></g>
<g transform="translate(1219.20,81.10)"><path d="M0 0L0.00 -3.90M0 0L3.38 -1.95M0 0L3.38 1.95M0 0L0.00 3.90M0 0L-3.38 1.95M0 0L-3.38 -1.95" stroke="#000" stroke-width="1.05" stroke-linecap="round"/><circle cx="0.00" cy="-2.81" r="0.95"/><circle cx="2.43" cy="-1.40" r="0.95"/><circle cx="2.43" cy="1.40" r="0.95"/><circle cx="0.00" cy="2.81" r="0.95"/><circle cx="-2.43" cy="1.40" r="0.95"/><circle cx="-2.43" cy="-1.40" r="0.95"/></g>
<g transform="translate(1246.10,74.60)"><path d="M0 0L0.00 -3.90M0 0L3.38 -1.95M0 0L3.38 1.95M0 0L0.00 3.90M0 0L-3.38 1.95M0 0L-3.38 -1.95" stroke="#000" stroke-width="1.05" stroke-linecap="round"/><circle cx="0.00" cy="-2.81" r="0.95"/><circle cx="2.43" cy="-1.40" r="0.95"/><circle cx="2.43" cy="1.40" r="0.95"/><circle cx="0.00" cy="2.81" r="0.95"/><circle cx="-2.43" cy="1.40" r="0.95"/><circle cx="-2.43" cy="-1.40" r="0.95"/></g>
<g transform="translate(1255.40,74.60)"><path d="M0 0L0.00 -3.90M0 0L3.38 -1.95M0 0L3.38 1.95M0 0L0.00 3.90M0 0L-3.38 1.95M0 0L-3.38 -1.95" stroke="#000" stroke-width="1.05" stroke-linecap="round"/><circle cx="0.00" cy="-2.81" r="0.95"/><circle cx="2.43" cy="-1.40" r="0.95"/><circle cx="2.43" cy="1.40" r="0.95"/><circle cx="0.00" cy="2.81" r="0.95"/><circle cx="-2.43" cy="1.40" r="0.95"/><circle cx="-2.43" cy="-1.40" r="0.95"/></g>
<path transform="translate(1260.20,78.00)" d="M1.0 0L2.7 -10.2M4.0 0L5.7 -10.2M0.3 -3.3H6.6M0.6 -6.9H6.9" fill="none" stroke="#000" stroke-width="1.15"/>
<g transform="translate(1286.80,83.60)"><path d="M0 0L0.00 -3.90M0 0L3.38 -1.95M0 0L3.38 1.95M0 0L0.00 3.90M0 0L-3.38 1.95M0 0L-3.38 -1.95" stroke="#000" stroke-width="1.05" stroke-linecap="round"/><circle cx="0.00" cy="-2.81" r="0.95"/><circle cx="2.43" cy="-1.40" r="0.95"/><circle cx="2.43" cy="1.40" r="0.95"/><circle cx="0.00" cy="2.81" r="0.95"/><circle cx="-2.43" cy="1.40" r="0.95"/><circle cx="-2.43" cy="-1.40" r="0.95"/></g>
<g transform="translate(1296.10,83.60)"><path d="M0 0L0.00 -3.90M0 0L3.38 -1.95M0 0L3.38 1.95M0 0L0.00 3.90M0 0L-3.38 1.95M0 0L-3.38 -1.95" stroke="#000" stroke-width="1.05" stroke-linecap="round"/><circle cx="0.00" cy="-2.81" r="0.95"/><circle cx="2.43" cy="-1.40" r="0.95"/><circle cx="2.43" cy="1.40" r="0.95"/><circle cx="0.00" cy="2.81" r="0.95"/><circle cx="-2.43" cy="1.40" r="0.95"/><circle cx="-2.43" cy="-1.40" r="0.95"/></g>
<path transform="translate(1300.90,87.00)" d="M1.0 0L2.7 -10.2M4.0 0L5.7 -10.2M0.3 -3.3H6.6M0.6 -6.9H6.9" fill="none" stroke="#000" stroke-width="1.15"/>
<text class="t" x="2.7" y="336.6" font-size="26.5">D</text>
<text class="t" font-size="18.5" text-anchor="middle" textLength="191.1" lengthAdjust="spacing" transform="translate(21.1,475.4) rotate(-90)">GR&#160; level (nmol/mgprot)</text>
<rect x="95.10" y="414.00" width="26.00" height="173.20" fill="#c2d1de" stroke="#000" stroke-width="1.55"/>
<rect x="96.30" y="415.20" width="23.60" height="170.80" fill="none" stroke="#dbe9f8" stroke-width="0.8" stroke-opacity="0.55"/>
<path d="M101.00 379.00H115.20M108.10 379.00V414.00" stroke="#06105e" stroke-width="2.2" stroke-linecap="round" fill="none"/>
<rect x="135.83" y="421.00" width="26.00" height="166.20" fill="#a9b7d6" stroke="#000" stroke-width="1.55"/>
<rect x="137.03" y="422.20" width="23.60" height="163.80" fill="none" stroke="#c6d6f8" stroke-width="0.8" stroke-opacity="0.55"/>
<path d="M141.73 398.20H155.93M148.83 398.20V421.00" stroke="#06105e" stroke-width="2.2" stroke-linecap="round" fill="none"/>
<rect x="176.56" y="448.00" width="26.00" height="139.20" fill="#8899be" stroke="#000" stroke-width="1.55"/>
<rect x="177.76" y="449.20" width="23.60" height="136.80" fill="none" stroke="#a2b6e2" stroke-width="0.8" stroke-opacity="0.55"/>
<path d="M182.46 428.10H196.66M189.56 428.10V448.00" stroke="#06105e" stroke-width="2.2" stroke-linecap="round" fill="none"/>
<rect x="217.29" y="443.50" width="26.00" height="143.70" fill="#6c88b0" stroke="#000" stroke-width="1.55"/>
<rect x="218.49" y="444.70" width="23.60" height="141.30" fill="none" stroke="#82a2d2" stroke-width="0.8" stroke-opacity="0.55"/>
<path d="M223.19 435.20H237.39M230.29 435.20V443.50" stroke="#06105e" stroke-width="2.2" stroke-linecap="round" fill="none"/>
<rect x="258.02" y="445.40" width="26.00" height="141.80" fill="#506ea4" stroke="#000" stroke-width="1.55"/>
<rect x="259.22" y="446.60" width="23.60" height="139.40" fill="none" stroke="#6282c2" stroke-width="0.8" stroke-opacity="0.55"/>
<path d="M263.92 436.10H278.12M271.02 436.10V445.40" stroke="#06105e" stroke-width="2.2" stroke-linecap="round" fill="none"/>
<rect x="298.75" y="443.50" width="26.00" height="143.70" fill="#3a619a" stroke="#000" stroke-width="1.55"/>
<rect x="299.95" y="444.70" width="23.60" height="141.30" fill="none" stroke="#4c74ba" stroke-width="0.8" stroke-opacity="0.55"/>
<path d="M304.65 435.20H318.85M311.75 435.20V443.50" stroke="#06105e" stroke-width="2.2" stroke-linecap="round" fill="none"/>
<rect x="339.48" y="431.80" width="26.00" height="155.40" fill="#244978" stroke="#000" stroke-width="1.55"/>
<rect x="340.68" y="433.00" width="23.60" height="153.00" fill="none" stroke="#3262a2" stroke-width="0.8" stroke-opacity="0.55"/>
<path d="M345.38 426.90H359.58M352.48 426.90V431.80" stroke="#06105e" stroke-width="2.2" stroke-linecap="round" fill="none"/>
<rect x="380.21" y="427.60" width="26.00" height="159.60" fill="#012a72" stroke="#000" stroke-width="1.55"/>
<rect x="381.41" y="428.80" width="23.60" height="157.20" fill="none" stroke="#1448a8" stroke-width="0.8" stroke-opacity="0.55"/>
<path d="M386.11 418.30H400.31M393.21 418.30V427.60" stroke="#06105e" stroke-width="2.2" stroke-linecap="round" fill="none"/>
<path d="M81.0 360.1V587.2" stroke="#000" stroke-width="2.2" fill="none"/>
<path d="M71.0 587.2H420.4" stroke="#000" stroke-width="2.2" fill="none"/>
<text class="t" font-size="18.0" text-anchor="end" transform="translate(67.4,593.90) scale(0.96,1)">0.00</text>
<path d="M71.0 541.98H81.0" stroke="#000" stroke-width="2.2" fill="none"/>
<text class="t" font-size="18.0" text-anchor="end" transform="translate(67.4,548.68) scale(0.96,1)">0.05</text>
<path d="M71.0 496.76H81.0" stroke="#000" stroke-width="2.2" fill="none"/>
<text class="t" font-size="18.0" text-anchor="end" transform="translate(67.4,503.46) scale(0.96,1)">0.10</text>
<path d="M71.0 451.54H81.0" stroke="#000" stroke-width="2.2" fill="none"/>
<text class="t" font-size="18.0" text-anchor="end" transform="translate(67.4,458.24) scale(0.96,1)">0.15</text>
<path d="M71.0 406.32H81.0" stroke="#000" stroke-width="2.2" fill="none"/>
<text class="t" font-size="18.0" text-anchor="end" transform="translate(67.4,413.02) scale(0.96,1)">0.20</text>
<path d="M71.0 361.10H81.0" stroke="#000" stroke-width="2.2" fill="none"/>
<text class="t" font-size="18.0" text-anchor="end" transform="translate(67.4,367.80) scale(0.96,1)">0.25</text>
<path d="M108.10 587.2V597.2" stroke="#000" stroke-width="2.2" fill="none"/>
<text class="t" font-size="17.5" text-anchor="end" transform="translate(112.40,611.5) rotate(-45)">C</text>
<path d="M148.83 587.2V597.2" stroke="#000" stroke-width="2.2" fill="none"/>
<text class="t" font-size="17.5" text-anchor="end" transform="translate(153.13,611.5) rotate(-45)">D</text>
<path d="M189.56 587.2V597.2" stroke="#000" stroke-width="2.2" fill="none"/>
<text class="t" font-size="17.5" text-anchor="end" transform="translate(193.86,611.5) rotate(-45)">A</text>
<path d="M230.29 587.2V597.2" stroke="#000" stroke-width="2.2" fill="none"/>
<text class="t" font-size="17.5" text-anchor="end" transform="translate(234.59,611.5) rotate(-45)">A+M</text>
<path d="M271.02 587.2V597.2" stroke="#000" stroke-width="2.2" fill="none"/>
<text class="t" font-size="17.5" text-anchor="end" transform="translate(275.32,611.5) rotate(-45)">A+L1</text>
<path d="M311.75 587.2V597.2" stroke="#000" stroke-width="2.2" fill="none"/>
<text class="t" font-size="17.5" text-anchor="end" transform="translate(316.05,611.5) rotate(-45)">A+L2</text>
<path d="M352.48 587.2V597.2" stroke="#000" stroke-width="2.2" fill="none"/>
<text class="t" font-size="17.5" text-anchor="end" transform="translate(356.78,611.5) rotate(-45)">A+M+L1</text>
<path d="M393.21 587.2V597.2" stroke="#000" stroke-width="2.2" fill="none"/>
<text class="t" font-size="17.5" text-anchor="end" transform="translate(397.51,611.5) rotate(-45)">A+M+L2</text>
<g transform="translate(189.70,412.10)"><path d="M0 0L0.00 -3.90M0 0L3.38 -1.95M0 0L3.38 1.95M0 0L0.00 3.90M0 0L-3.38 1.95M0 0L-3.38 -1.95" stroke="#000" stroke-width="1.05" stroke-linecap="round"/><circle cx="0.00" cy="-2.81" r="0.95"/><circle cx="2.43" cy="-1.40" r="0.95"/><circle cx="2.43" cy="1.40" r="0.95"/><circle cx="0.00" cy="2.81" r="0.95"/><circle cx="-2.43" cy="1.40" r="0.95"/><circle cx="-2.43" cy="-1.40" r="0.95"/></g>
<g transform="translate(230.40,417.80)"><path d="M0 0L0.00 -3.90M0 0L3.38 -1.95M0 0L3.38 1.95M0 0L0.00 3.90M0 0L-3.38 1.95M0 0L-3.38 -1.95" stroke="#000" stroke-width="1.05" stroke-linecap="round"/><circle cx="0.00" cy="-2.81" r="0.95"/><circle cx="2.43" cy="-1.40" r="0.95"/><circle cx="2.43" cy="1.40" r="0.95"/><circle cx="0.00" cy="2.81" r="0.95"/><circle cx="-2.43" cy="1.40" r="0.95"/><circle cx="-2.43" cy="-1.40" r="0.95"/></g>
<g transform="translate(270.90,419.60)"><path d="M0 0L0.00 -3.90M0 0L3.38 -1.95M0 0L3.38 1.95M0 0L0.00 3.90M0 0L-3.38 1.95M0 0L-3.38 -1.95" stroke="#000" stroke-width="1.05" stroke-linecap="round"/><circle cx="0.00" cy="-2.81" r="0.95"/><circle cx="2.43" cy="-1.40" r="0.95"/><circle cx="2.43" cy="1.40" r="0.95"/><circle cx="0.00" cy="2.81" r="0.95"/><circle cx="-2.43" cy="1.40" r="0.95"/><circle cx="-2.43" cy="-1.40" r="0.95"/></g>
<g transform="translate(311.70,417.40)"><path d="M0 0L0.00 -3.90M0 0L3.38 -1.95M0 0L3.38 1.95M0 0L0.00 3.90M0 0L-3.38 1.95M0 0L-3.38 -1.95" stroke="#000" stroke-width="1.05" stroke-linecap="round"/><circle cx="0.00" cy="-2.81" r="0.95"/><circle cx="2.43" cy="-1.40" r="0.95"/><circle cx="2.43" cy="1.40" r="0.95"/><circle cx="0.00" cy="2.81" r="0.95"/><circle cx="-2.43" cy="1.40" r="0.95"/><circle cx="-2.43" cy="-1.40" r="0.95"/></g>
<text class="t" x="454.0" y="336.4" font-size="26.5">E</text>
<text class="t" font-size="18.5" text-anchor="middle" textLength="206.5" lengthAdjust="spacing" transform="translate(475.9,473.1) rotate(-90)">MDA level&#160; (nmol/mgprot)</text>
<rect x="548.00" y="460.00" width="26.00" height="127.20" fill="#c2d1de" stroke="#000" stroke-width="1.55"/>
<rect x="549.20" y="461.20" width="23.60" height="124.80" fill="none" stroke="#dbe9f8" stroke-width="0.8" stroke-opacity="0.55"/>
<path d="M553.90 453.40H568.10M561.00 453.40V460.00" stroke="#06105e" stroke-width="2.2" stroke-linecap="round" fill="none"/>
<rect x="588.96" y="457.50" width="26.00" height="129.70" fill="#a9b7d6" stroke="#000" stroke-width="1.55"/>
<rect x="590.16" y="458.70" width="23.60" height="127.30" fill="none" stroke="#c6d6f8" stroke-width="0.8" stroke-opacity="0.55"/>
<path d="M594.86 452.50H609.06M601.96 452.50V457.50" stroke="#06105e" stroke-width="2.2" stroke-linecap="round" fill="none"/>
<rect x="629.92" y="418.00" width="26.00" height="169.20" fill="#8899be" stroke="#000" stroke-width="1.55"/>
<rect x="631.12" y="419.20" width="23.60" height="166.80" fill="none" stroke="#a2b6e2" stroke-width="0.8" stroke-opacity="0.55"/>
<path d="M635.82 405.00H650.02M642.92 405.00V418.00" stroke="#06105e" stroke-width="2.2" stroke-linecap="round" fill="none"/>
<rect x="670.88" y="440.80" width="26.00" height="146.40" fill="#6c88b0" stroke="#000" stroke-width="1.55"/>
<rect x="672.08" y="442.00" width="23.60" height="144.00" fill="none" stroke="#82a2d2" stroke-width="0.8" stroke-opacity="0.55"/>
<path d="M676.78 434.00H690.98M683.88 434.00V440.80" stroke="#06105e" stroke-width="2.2" stroke-linecap="round" fill="none"/>
<rect x="711.84" y="440.70" width="26.00" height="146.50" fill="#506ea4" stroke="#000" stroke-width="1.55"/>
<rect x="713.04" y="441.90" width="23.60" height="144.10" fill="none" stroke="#6282c2" stroke-width="0.8" stroke-opacity="0.55"/>
<path d="M717.74 437.90H731.94M724.84 437.90V440.70" stroke="#06105e" stroke-width="2.2" stroke-linecap="round" fill="none"/>
<rect x="752.80" y="435.70" width="26.00" height="151.50" fill="#3a619a" stroke="#000" stroke-width="1.55"/>
<rect x="754.00" y="436.90" width="23.60" height="149.10" fill="none" stroke="#4c74ba" stroke-width="0.8" stroke-opacity="0.55"/>
<path d="M758.70 432.40H772.90M765.80 432.40V435.70" stroke="#06105e" stroke-width="2.2" stroke-linecap="round" fill="none"/>
<rect x="793.76" y="445.20" width="26.00" height="142.00" fill="#244978" stroke="#000" stroke-width="1.55"/>
<rect x="794.96" y="446.40" width="23.60" height="139.60" fill="none" stroke="#3262a2" stroke-width="0.8" stroke-opacity="0.55"/>
<path d="M799.66 442.00H813.86M806.76 442.00V445.20" stroke="#06105e" stroke-width="2.2" stroke-linecap="round" fill="none"/>
<rect x="834.72" y="445.20" width="26.00" height="142.00" fill="#012a72" stroke="#000" stroke-width="1.55"/>
<rect x="835.92" y="446.40" width="23.60" height="139.60" fill="none" stroke="#1448a8" stroke-width="0.8" stroke-opacity="0.55"/>
<path d="M840.62 440.30H854.82M847.72 440.30V445.20" stroke="#06105e" stroke-width="2.2" stroke-linecap="round" fill="none"/>
<path d="M533.6 358.7V587.2" stroke="#000" stroke-width="2.2" fill="none"/>
<path d="M523.6 587.2H874.5" stroke="#000" stroke-width="2.2" fill="none"/>
<text class="t" font-size="18.0" text-anchor="end" transform="translate(520.0,593.90) scale(0.96,1)">0</text>
<path d="M523.6 541.70H533.6" stroke="#000" stroke-width="2.2" fill="none"/>
<text class="t" font-size="18.0" text-anchor="end" transform="translate(520.0,548.40) scale(0.96,1)">1</text>
<path d="M523.6 496.20H533.6" stroke="#000" stroke-width="2.2" fill="none"/>
<text class="t" font-size="18.0" text-anchor="end" transform="translate(520.0,502.90) scale(0.96,1)">2</text>
<path d="M523.6 450.70H533.6" stroke="#000" stroke-width="2.2" fill="none"/>
<text class="t" font-size="18.0" text-anchor="end" transform="translate(520.0,457.40) scale(0.96,1)">3</text>
<path d="M523.6 405.20H533.6" stroke="#000" stroke-width="2.2" fill="none"/>
<text class="t" font-size="18.0" text-anchor="end" transform="translate(520.0,411.90) scale(0.96,1)">4</text>
<path d="M523.6 359.70H533.6" stroke="#000" stroke-width="2.2" fill="none"/>
<text class="t" font-size="18.0" text-anchor="end" transform="translate(520.0,366.40) scale(0.96,1)">5</text>
<path d="M561.00 587.2V597.2" stroke="#000" stroke-width="2.2" fill="none"/>
<text class="t" font-size="17.5" text-anchor="end" transform="translate(565.30,611.5) rotate(-45)">C</text>
<path d="M601.96 587.2V597.2" stroke="#000" stroke-width="2.2" fill="none"/>
<text class="t" font-size="17.5" text-anchor="end" transform="translate(606.26,611.5) rotate(-45)">D</text>
<path d="M642.92 587.2V597.2" stroke="#000" stroke-width="2.2" fill="none"/>
<text class="t" font-size="17.5" text-anchor="end" transform="translate(647.22,611.5) rotate(-45)">A</text>
<path d="M683.88 587.2V597.2" stroke="#000" stroke-width="2.2" fill="none"/>
<text class="t" font-size="17.5" text-anchor="end" transform="translate(688.18,611.5) rotate(-45)">A+M</text>
<path d="M724.84 587.2V597.2" stroke="#000" stroke-width="2.2" fill="none"/>
<text class="t" font-size="17.5" text-anchor="end" transform="translate(729.14,611.5) rotate(-45)">A+L1</text>
<path d="M765.80 587.2V597.2" stroke="#000" stroke-width="2.2" fill="none"/>
<text class="t" font-size="17.5" text-anchor="end" transform="translate(770.10,611.5) rotate(-45)">A+L2</text>
<path d="M806.76 587.2V597.2" stroke="#000" stroke-width="2.2" fill="none"/>
<text class="t" font-size="17.5" text-anchor="end" transform="translate(811.06,611.5) rotate(-45)">A+M+L1</text>
<path d="M847.72 587.2V597.2" stroke="#000" stroke-width="2.2" fill="none"/>
<text class="t" font-size="17.5" text-anchor="end" transform="translate(852.02,611.5) rotate(-45)">A+M+L2</text>
<g transform="translate(634.10,388.00)"><path d="M0 0L0.00 -3.90M0 0L3.38 -1.95M0 0L3.38 1.95M0 0L0.00 3.90M0 0L-3.38 1.95M0 0L-3.38 -1.95" stroke="#000" stroke-width="1.05" stroke-linecap="round"/><circle cx="0.00" cy="-2.81" r="0.95"/><circle cx="2.43" cy="-1.40" r="0.95"/><circle cx="2.43" cy="1.40" r="0.95"/><circle cx="0.00" cy="2.81" r="0.95"/><circle cx="-2.43" cy="1.40" r="0.95"/><circle cx="-2.43" cy="-1.40" r="0.95"/></g>
<g transform="translate(643.40,388.00)"><path d="M0 0L0.00 -3.90M0 0L3.38 -1.95M0 0L3.38 1.95M0 0L0.00 3.90M0 0L-3.38 1.95M0 0L-3.38 -1.95" stroke="#000" stroke-width="1.05" stroke-linecap="round"/><circle cx="0.00" cy="-2.81" r="0.95"/><circle cx="2.43" cy="-1.40" r="0.95"/><circle cx="2.43" cy="1.40" r="0.95"/><circle cx="0.00" cy="2.81" r="0.95"/><circle cx="-2.43" cy="1.40" r="0.95"/><circle cx="-2.43" cy="-1.40" r="0.95"/></g>
<g transform="translate(652.70,388.00)"><path d="M0 0L0.00 -3.90M0 0L3.38 -1.95M0 0L3.38 1.95M0 0L0.00 3.90M0 0L-3.38 1.95M0 0L-3.38 -1.95" stroke="#000" stroke-width="1.05" stroke-linecap="round"/><circle cx="0.00" cy="-2.81" r="0.95"/><circle cx="2.43" cy="-1.40" r="0.95"/><circle cx="2.43" cy="1.40" r="0.95"/><circle cx="0.00" cy="2.81" r="0.95"/><circle cx="-2.43" cy="1.40" r="0.95"/><circle cx="-2.43" cy="-1.40" r="0.95"/></g>
<g transform="translate(665.50,419.90)"><path d="M0 0L0.00 -3.90M0 0L3.38 -1.95M0 0L3.38 1.95M0 0L0.00 3.90M0 0L-3.38 1.95M0 0L-3.38 -1.95" stroke="#000" stroke-width="1.05" stroke-linecap="round"/><circle cx="0.00" cy="-2.81" r="0.95"/><circle cx="2.43" cy="-1.40" r="0.95"/><circle cx="2.43" cy="1.40" r="0.95"/><circle cx="0.00" cy="2.81" r="0.95"/><circle cx="-2.43" cy="1.40" r="0.95"/><circle cx="-2.43" cy="-1.40" r="0.95"/></g>
<g transform="translate(674.80,419.90)"><path d="M0 0L0.00 -3.90M0 0L3.38 -1.95M0 0L3.38 1.95M0 0L0.00 3.90M0 0L-3.38 1.95M0 0L-3.38 -1.95" stroke="#000" stroke-width="1.05" stroke-linecap="round"/><circle cx="0.00" cy="-2.81" r="0.95"/><circle cx="2.43" cy="-1.40" r="0.95"/><circle cx="2.43" cy="1.40" r="0.95"/><circle cx="0.00" cy="2.81" r="0.95"/><circle cx="-2.43" cy="1.40" r="0.95"/><circle cx="-2.43" cy="-1.40" r="0.95"/></g>
<g transform="translate(684.10,419.90)"><path d="M0 0L0.00 -3.90M0 0L3.38 -1.95M0 0L3.38 1.95M0 0L0.00 3.90M0 0L-3.38 1.95M0 0L-3.38 -1.95" stroke="#000" stroke-width="1.05" stroke-linecap="round"/><circle cx="0.00" cy="-2.81" r="0.95"/><circle cx="2.43" cy="-1.40" r="0.95"/><circle cx="2.43" cy="1.40" r="0.95"/><circle cx="0.00" cy="2.81" r="0.95"/><circle cx="-2.43" cy="1.40" r="0.95"/><circle cx="-2.43" cy="-1.40" r="0.95"/></g>
<path transform="translate(688.90,423.30)" d="M1.0 0L2.7 -10.2M4.0 0L5.7 -10.2M0.3 -3.3H6.6M0.6 -6.9H6.9" fill="none" stroke="#000" stroke-width="1.15"/>
<path transform="translate(695.80,423.30)" d="M1.0 0L2.7 -10.2M4.0 0L5.7 -10.2M0.3 -3.3H6.6M0.6 -6.9H6.9" fill="none" stroke="#000" stroke-width="1.15"/>
<g transform="translate(707.60,425.20)"><path d="M0 0L0.00 -3.90M0 0L3.38 -1.95M0 0L3.38 1.95M0 0L0.00 3.90M0 0L-3.38 1.95M0 0L-3.38 -1.95" stroke="#000" stroke-width="1.05" stroke-linecap="round"/><circle cx="0.00" cy="-2.81" r="0.95"/><circle cx="2.43" cy="-1.40" r="0.95"/><circle cx="2.43" cy="1.40" r="0.95"/><circle cx="0.00" cy="2.81" r="0.95"/><circle cx="-2.43" cy="1.40" r="0.95"/><circle cx="-2.43" cy="-1.40" r="0.95"/></g>
<g transform="translate(716.90,425.20)"><path d="M0 0L0.00 -3.90M0 0L3.38 -1.95M0 0L3.38 1.95M0 0L0.00 3.90M0 0L-3.38 1.95M0 0L-3.38 -1.95" stroke="#000" stroke-width="1.05" stroke-linecap="round"/><circle cx="0.00" cy="-2.81" r="0.95"/><circle cx="2.43" cy="-1.40" r="0.95"/><circle cx="2.43" cy="1.40" r="0.95"/><circle cx="0.00" cy="2.81" r="0.95"/><circle cx="-2.43" cy="1.40" r="0.95"/><circle cx="-2.43" cy="-1.40" r="0.95"/></g>
<g transform="translate(726.20,425.20)"><path d="M0 0L0.00 -3.90M0 0L3.38 -1.95M0 0L3.38 1.95M0 0L0.00 3.90M0 0L-3.38 1.95M0 0L-3.38 -1.95" stroke="#000" stroke-width="1.05" stroke-linecap="round"/><circle cx="0.00" cy="-2.81" r="0.95"/><circle cx="2.43" cy="-1.40" r="0.95"/><circle cx="2.43" cy="1.40" r="0.95"/><circle cx="0.00" cy="2.81" r="0.95"/><circle cx="-2.43" cy="1.40" r="0.95"/><circle cx="-2.43" cy="-1.40" r="0.95"/></g>
<path transform="translate(731.00,428.60)" d="M1.0 0L2.7 -10.2M4.0 0L5.7 -10.2M0.3 -3.3H6.6M0.6 -6.9H6.9" fill="none" stroke="#000" stroke-width="1.15"/>
<path transform="translate(737.90,428.60)" d="M1.0 0L2.7 -10.2M4.0 0L5.7 -10.2M0.3 -3.3H6.6M0.6 -6.9H6.9" fill="none" stroke="#000" stroke-width="1.15"/>
<g transform="translate(749.90,416.90)"><path d="M0 0L0.00 -3.90M0 0L3.38 -1.95M0 0L3.38 1.95M0 0L0.00 3.90M0 0L-3.38 1.95M0 0L-3.38 -1.95" stroke="#000" stroke-width="1.05" stroke-linecap="round"/><circle cx="0.00" cy="-2.81" r="0.95"/><circle cx="2.43" cy="-1.40" r="0.95"/><circle cx="2.43" cy="1.40" r="0.95"/><circle cx="0.00" cy="2.81" r="0.95"/><circle cx="-2.43" cy="1.40" r="0.95"/><circle cx="-2.43" cy="-1.40" r="0.95"/></g>
<g transform="translate(759.20,416.90)"><path d="M0 0L0.00 -3.90M0 0L3.38 -1.95M0 0L3.38 1.95M0 0L0.00 3.90M0 0L-3.38 1.95M0 0L-3.38 -1.95" stroke="#000" stroke-width="1.05" stroke-linecap="round"/><circle cx="0.00" cy="-2.81" r="0.95"/><circle cx="2.43" cy="-1.40" r="0.95"/><circle cx="2.43" cy="1.40" r="0.95"/><circle cx="0.00" cy="2.81" r="0.95"/><circle cx="-2.43" cy="1.40" r="0.95"/><circle cx="-2.43" cy="-1.40" r="0.95"/></g>
<g transform="translate(768.50,416.90)"><path d="M0 0L0.00 -3.90M0 0L3.38 -1.95M0 0L3.38 1.95M0 0L0.00 3.90M0 0L-3.38 1.95M0 0L-3.38 -1.95" stroke="#000" stroke-width="1.05" stroke-linecap="round"/><circle cx="0.00" cy="-2.81" r="0.95"/><circle cx="2.43" cy="-1.40" r="0.95"/><circle cx="2.43" cy="1.40" r="0.95"/><circle cx="0.00" cy="2.81" r="0.95"/><circle cx="-2.43" cy="1.40" r="0.95"/><circle cx="-2.43" cy="-1.40" r="0.95"/></g>
<path transform="translate(773.30,420.30)" d="M1.0 0L2.7 -10.2M4.0 0L5.7 -10.2M0.3 -3.3H6.6M0.6 -6.9H6.9" fill="none" stroke="#000" stroke-width="1.15"/>
<path transform="translate(780.20,420.30)" d="M1.0 0L2.7 -10.2M4.0 0L5.7 -10.2M0.3 -3.3H6.6M0.6 -6.9H6.9" fill="none" stroke="#000" stroke-width="1.15"/>
<g transform="translate(790.10,428.00)"><path d="M0 0L0.00 -3.90M0 0L3.38 -1.95M0 0L3.38 1.95M0 0L0.00 3.90M0 0L-3.38 1.95M0 0L-3.38 -1.95" stroke="#000" stroke-width="1.05" stroke-linecap="round"/><circle cx="0.00" cy="-2.81" r="0.95"/><circle cx="2.43" cy="-1.40" r="0.95"/><circle cx="2.43" cy="1.40" r="0.95"/><circle cx="0.00" cy="2.81" r="0.95"/><circle cx="-2.43" cy="1.40" r="0.95"/><circle cx="-2.43" cy="-1.40" r="0.95"/></g>
<g transform="translate(799.40,428.00)"><path d="M0 0L0.00 -3.90M0 0L3.38 -1.95M0 0L3.38 1.95M0 0L0.00 3.90M0 0L-3.38 1.95M0 0L-3.38 -1.95" stroke="#000" stroke-width="1.05" stroke-linecap="round"/><circle cx="0.00" cy="-2.81" r="0.95"/><circle cx="2.43" cy="-1.40" r="0.95"/><circle cx="2.43" cy="1.40" r="0.95"/><circle cx="0.00" cy="2.81" r="0.95"/><circle cx="-2.43" cy="1.40" r="0.95"/><circle cx="-2.43" cy="-1.40" r="0.95"/></g>
<path transform="translate(804.20,431.40)" d="M1.0 0L2.7 -10.2M4.0 0L5.7 -10.2M0.3 -3.3H6.6M0.6 -6.9H6.9" fill="none" stroke="#000" stroke-width="1.15"/>
<path transform="translate(811.10,431.40)" d="M1.0 0L2.7 -10.2M4.0 0L5.7 -10.2M0.3 -3.3H6.6M0.6 -6.9H6.9" fill="none" stroke="#000" stroke-width="1.15"/>
<path transform="translate(818.00,431.40)" d="M1.0 0L2.7 -10.2M4.0 0L5.7 -10.2M0.3 -3.3H6.6M0.6 -6.9H6.9" fill="none" stroke="#000" stroke-width="1.15"/>
<g transform="translate(829.60,422.70)"><path d="M0 0L0.00 -3.90M0 0L3.38 -1.95M0 0L3.38 1.95M0 0L0.00 3.90M0 0L-3.38 1.95M0 0L-3.38 -1.95" stroke="#000" stroke-width="1.05" stroke-linecap="round"/><circle cx="0.00" cy="-2.81" r="0.95"/><circle cx="2.43" cy="-1.40" r="0.95"/><circle cx="2.43" cy="1.40" r="0.95"/><circle cx="0.00" cy="2.81" r="0.95"/><circle cx="-2.43" cy="1.40" r="0.95"/><circle cx="-2.43" cy="-1.40" r="0.95"/></g>
<g transform="translate(838.90,422.70)"><path d="M0 0L0.00 -3.90M0 0L3.38 -1.95M0 0L3.38 1.95M0 0L0.00 3.90M0 0L-3.38 1.95M0 0L-3.38 -1.95" stroke="#000" stroke-width="1.05" stroke-linecap="round"/><circle cx="0.00" cy="-2.81" r="0.95"/><circle cx="2.43" cy="-1.40" r="0.95"/><circle cx="2.43" cy="1.40" r="0.95"/><circle cx="0.00" cy="2.81" r="0.95"/><circle cx="-2.43" cy="1.40" r="0.95"/><circle cx="-2.43" cy="-1.40" r="0.95"/></g>
<path transform="translate(843.70,426.10)" d="M1.0 0L2.7 -10.2M4.0 0L5.7 -10.2M0.3 -3.3H6.6M0.6 -6.9H6.9" fill="none" stroke="#000" stroke-width="1.15"/>
<path transform="translate(850.60,426.10)" d="M1.0 0L2.7 -10.2M4.0 0L5.7 -10.2M0.3 -3.3H6.6M0.6 -6.9H6.9" fill="none" stroke="#000" stroke-width="1.15"/>
<path transform="translate(857.50,426.10)" d="M1.0 0L2.7 -10.2M4.0 0L5.7 -10.2M0.3 -3.3H6.6M0.6 -6.9H6.9" fill="none" stroke="#000" stroke-width="1.15"/>
</svg></body></html>
